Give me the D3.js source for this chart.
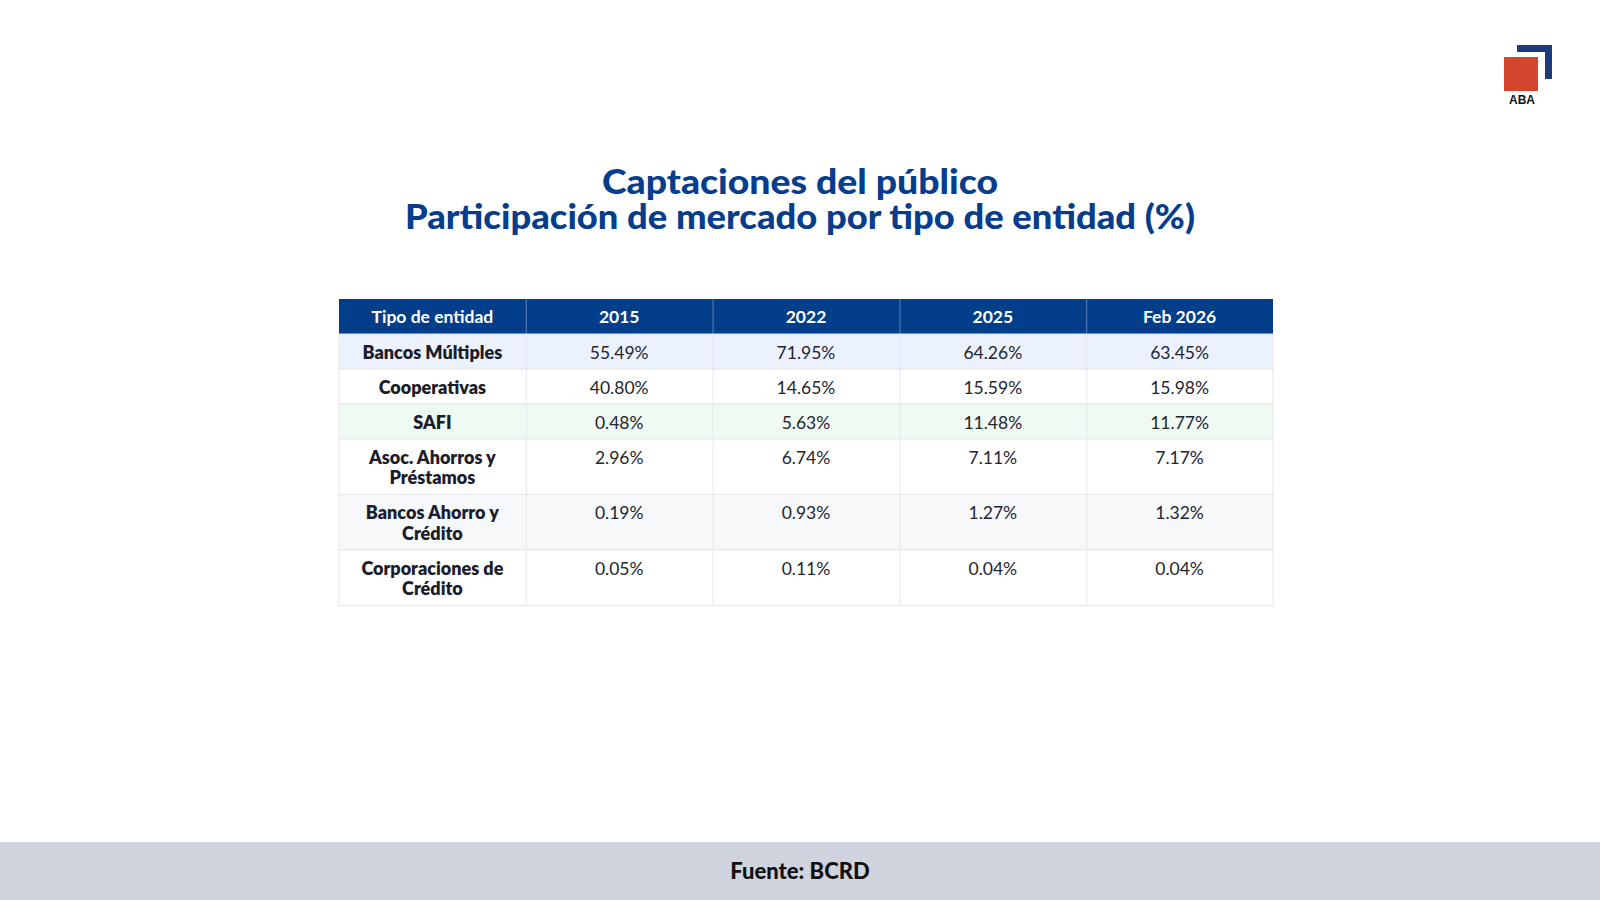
<!DOCTYPE html>
<html>
<head>
<meta charset="utf-8">
<script src="https://cdn.jsdelivr.net/npm/d3@7"></script>
<style>
  body { margin: 0; background: #fff; }
  svg { display: block; font-family: Lato, "Noto Sans", sans-serif; }
</style>
</head>
<body>
<svg id="chart" width="1600" height="900"></svg>
<script>
// Table data
const titleLines = ["Captaciones del público", "Participación de mercado por tipo de entidad (%)"];
const headerLabel = "Tipo de entidad";
const periods = ["2015", "2022", "2025", "Feb 2026"];
const entities = [
    ["Bancos Múltiples"],
    ["Cooperativas"],
    ["SAFI"],
    ["Asoc. Ahorros y", "Préstamos"],
    ["Bancos Ahorro y", "Crédito"],
    ["Corporaciones de", "Crédito"]
];
const share2015 = [55.49, 40.80, 0.48, 2.96, 0.19, 0.05];
const share2022 = [71.95, 14.65, 5.63, 6.74, 0.93, 0.11];
const share2025 = [64.26, 15.59, 11.48, 7.11, 1.27, 0.04];
const shareFeb2026 = [63.45, 15.98, 11.77, 7.17, 1.32, 0.04];
const rowFills = ["#ecf2fd", "#ffffff", "#effbf2", "#ffffff", "#f6f8fa", "#ffffff"];
const source = "Fuente: BCRD";

const series = [share2015, share2022, share2025, shareFeb2026];

const svg = d3.select("#chart");

// Title: one text block, two lines (widths matched to the reference lettering)
const titleWidths = [396, 790];
const title = svg.append("text")
    .attr("class", "title")
    .attr("text-anchor", "middle")
    .attr("font-size", 34)
    .attr("font-weight", 900)
    .attr("fill", "#063d8c");

title.selectAll("tspan")
    .data(titleLines)
    .enter().append("tspan")
    .attr("x", 800)
    .attr("y", (d, i) => 194 + i * 35)
    .attr("textLength", (d, i) => titleWidths[i])
    .attr("lengthAdjust", "spacingAndGlyphs")
    .text(d => d);

// Column scale
const columns = [headerLabel].concat(periods);
const x = d3.scaleBand().domain(columns).range([339, 1273]);

// Row positions: header 35px, single-line rows 35px, two-line rows 55px
const headerTop = 299, headerH = 35;
let rowTops = [];
let y0 = headerTop + headerH;
entities.forEach(lines => {
    const h = lines.length > 1 ? 55.5 : 35;
    rowTops.push({ top: y0, h: h });
    y0 += h;
});

const table = svg.append("g");

// Header
table.append("rect")
    .attr("x", x.range()[0]).attr("y", headerTop)
    .attr("width", x.range()[1] - x.range()[0]).attr("height", headerH)
    .attr("fill", "#023e8a");

table.selectAll("text.head")
    .data(columns)
    .enter().append("text")
    .attr("class", "head")
    .attr("x", d => x(d) + x.bandwidth() / 2)
    .attr("y", headerTop + headerH / 2 + 6.5)
    .attr("text-anchor", "middle")
    .attr("font-size", 17.5)
    .attr("font-weight", 700)
    .attr("fill", "#ffffff")
    .text(d => d);

table.selectAll("line.headsep")
    .data(columns.slice(1))
    .enter().append("line")
    .attr("x1", d => x(d) + 0.5).attr("x2", d => x(d) + 0.5)
    .attr("y1", headerTop).attr("y2", headerTop + headerH)
    .attr("stroke", "#5b7fb8").attr("stroke-width", 1);

// Body rows
const rows = table.selectAll("g.row")
    .data(entities)
    .enter().append("g")
    .attr("class", "row");

rows.append("rect")
    .attr("x", x.range()[0])
    .attr("y", (d, i) => rowTops[i].top)
    .attr("width", x.range()[1] - x.range()[0])
    .attr("height", (d, i) => rowTops[i].h)
    .attr("fill", (d, i) => rowFills[i])
    .attr("stroke", "#e4e7eb").attr("stroke-width", 1);

// Cell borders, labels and values
rows.each(function (d, i) {
    const g = d3.select(this);
    g.selectAll("line")
        .data(periods)
        .enter().append("line")
        .attr("x1", p => x(p) + 0.5).attr("x2", p => x(p) + 0.5)
        .attr("y1", rowTops[i].top).attr("y2", rowTops[i].top + rowTops[i].h)
        .attr("stroke", "#e4e7eb").attr("stroke-width", 1);

    // Entity label (one or two lines)
    g.selectAll("text.label")
        .data(d)
        .enter().append("text")
        .attr("class", "label")
        .attr("x", x(headerLabel) + x.bandwidth() / 2)
        .attr("y", (t, j) => rowTops[i].top + 24.5 + j * 20.5)
        .attr("text-anchor", "middle")
        .attr("font-size", 18)
        .attr("font-weight", 800)
        .attr("fill", "#1b1d2b")
        .text(t => t);

    // Values
    g.selectAll("text.val")
        .data(periods)
        .enter().append("text")
        .attr("class", "val")
        .attr("x", p => x(p) + x.bandwidth() / 2)
        .attr("y", rowTops[i].top + 24.5)
        .attr("text-anchor", "middle")
        .attr("font-size", 17.5)
        .attr("fill", "#23252f")
        .text((p, k) => series[k][i].toFixed(2) + "%");
});

// Footer band
svg.append("rect")
    .attr("x", 0).attr("y", 842)
    .attr("width", 1600).attr("height", 58)
    .attr("fill", "#cfd4de");

svg.append("text")
    .attr("x", 800).attr("y", 879)
    .attr("text-anchor", "middle")
    .attr("font-size", 22)
    .attr("font-weight", 900)
    .attr("fill", "#111111")
    .text(source);

// Logo
const logo = svg.append("g");
logo.append("path")
    .attr("d", "M1517,45 H1552 V79 H1545 V52 H1517 Z")
    .attr("fill", "#1f3a7a");
logo.append("rect")
    .attr("x", 1504).attr("y", 57)
    .attr("width", 34).attr("height", 34)
    .attr("fill", "#d4452e");
logo.append("text")
    .attr("x", 1522).attr("y", 104)
    .attr("text-anchor", "middle")
    .attr("font-size", 12)
    .attr("font-weight", 700)
    .attr("font-family", "Arial, Liberation Sans, sans-serif")
    .attr("fill", "#111111")
    .text("ABA");
</script>
</body>
</html>
